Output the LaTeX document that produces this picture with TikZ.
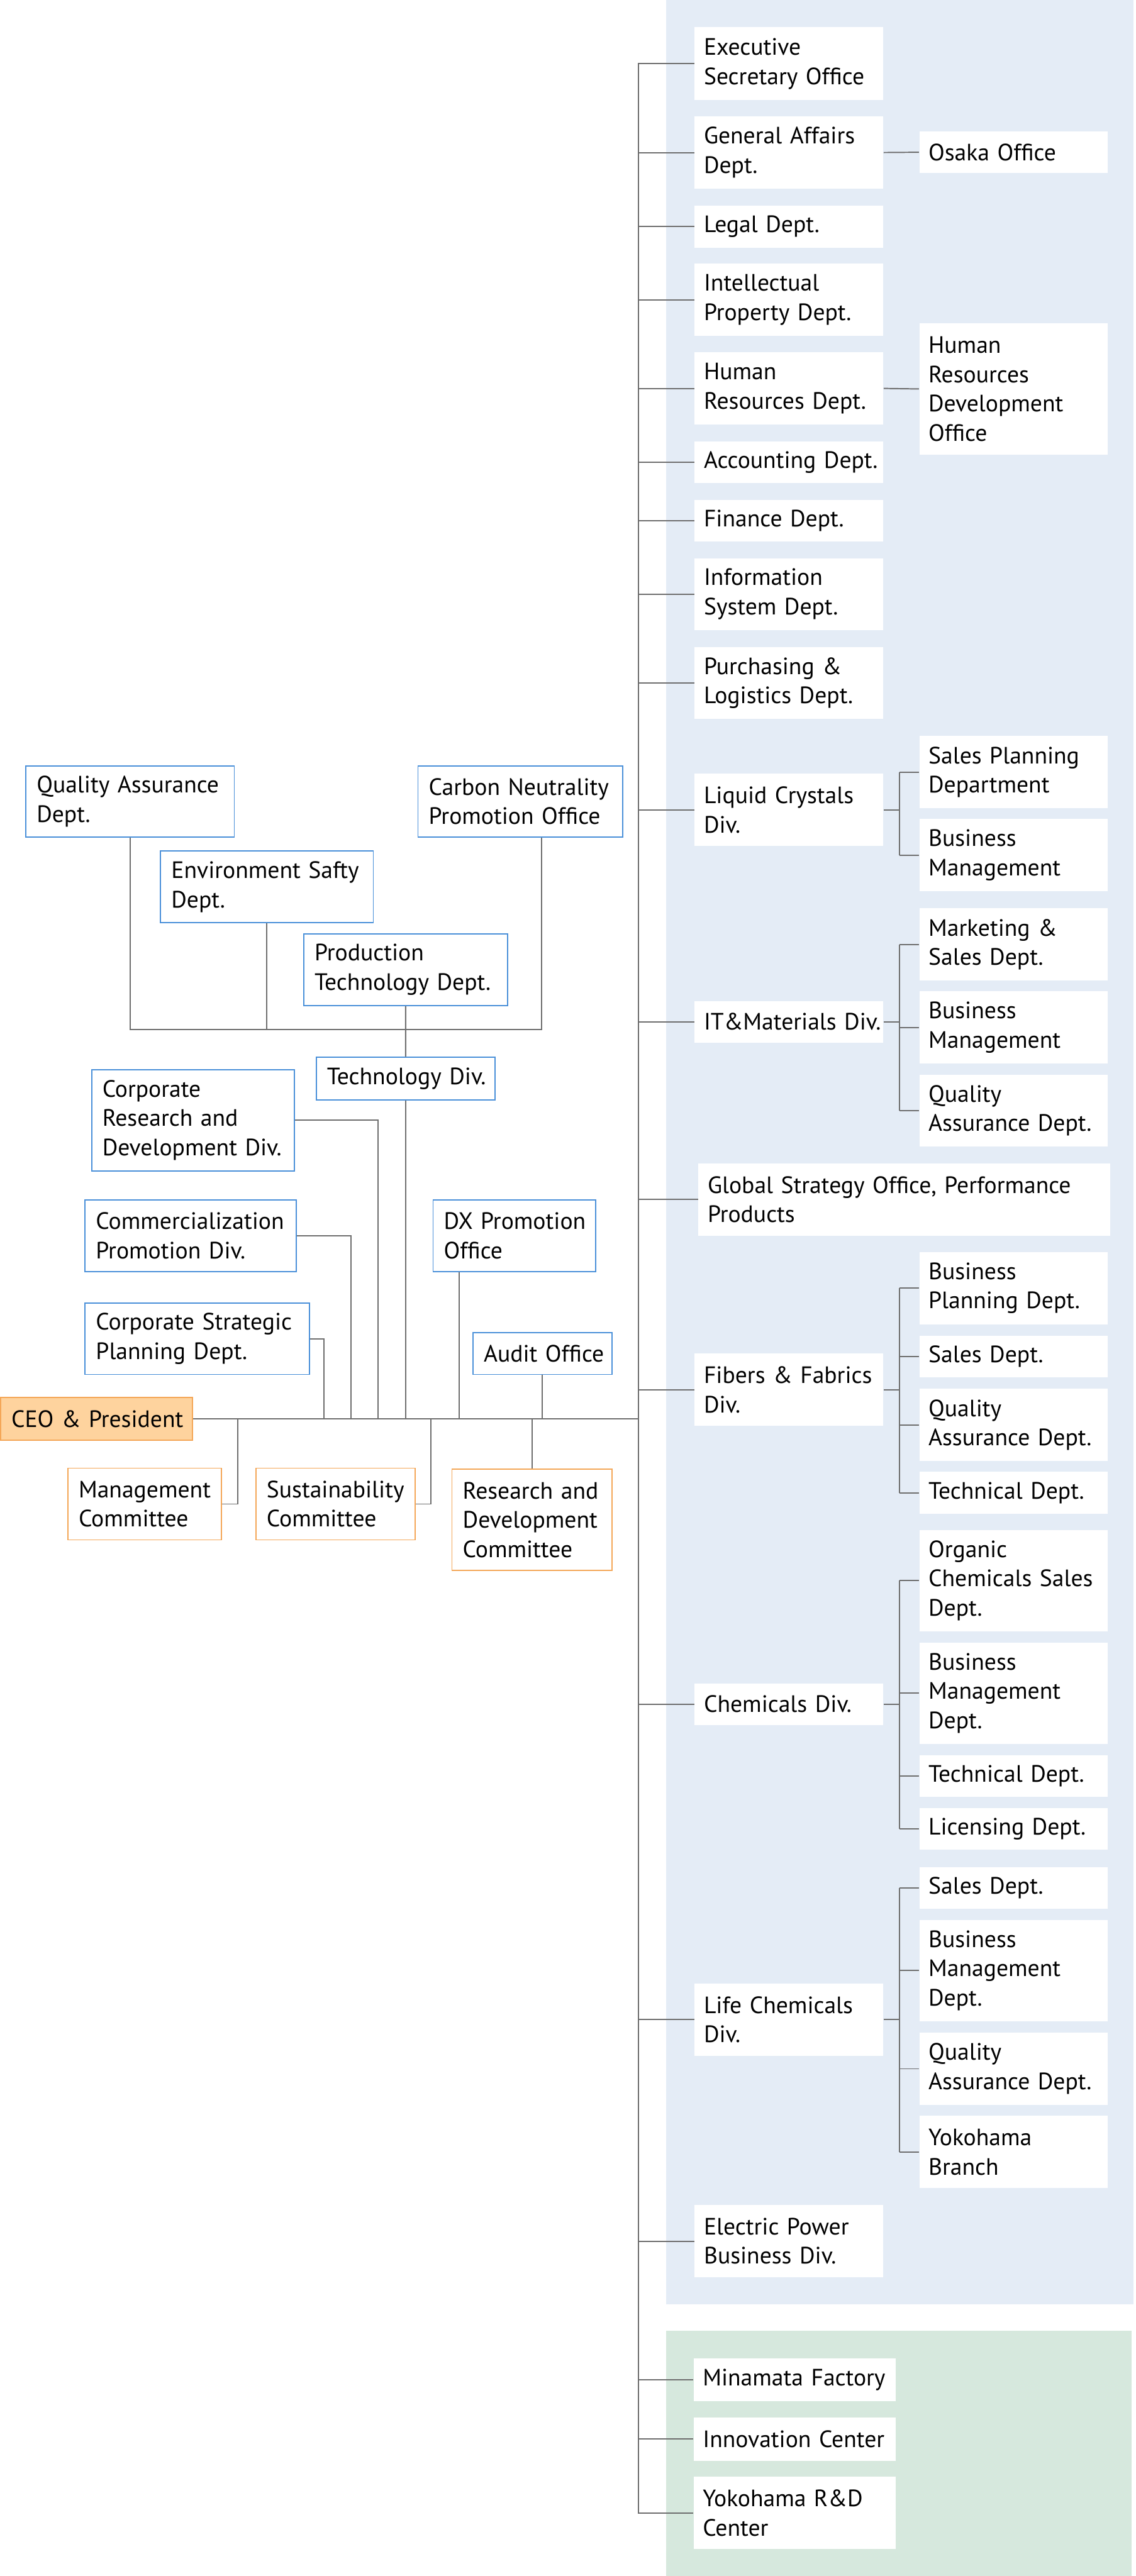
\documentclass[tikz,border=0pt]{standalone}
\usepackage{fontspec}
\newfontfamily\chartfont{PT Sans}
\hyphenpenalty=10000
\exhyphenpenalty=10000

\definecolor{panelblue}{RGB}{228,236,246}
\definecolor{panelgreen}{RGB}{214,232,221}
\definecolor{unitblue}{RGB}{74,144,217}
\definecolor{cmteorange}{RGB}{244,167,88}
\definecolor{ceofill}{RGB}{254,211,158}
\definecolor{linegray}{RGB}{110,110,110}

\begin{document}
\begin{tikzpicture}[x=1cm, y=-1cm,
  cell/.style={anchor=north west, align=left, inner ysep=0pt,
    font=\chartfont\fontsize{12.5}{15.5}\selectfont},
  dept/.style={cell, fill=white, inner xsep=0.17cm, text width=3.16cm},
  site/.style={dept, text width=3.41cm},
  unit/.style={cell, draw=unitblue, line width=0.6pt, fill=white, inner xsep=0.2cm},
  cmte/.style={unit, draw=cmteorange},
  chief/.style={cmte, fill=ceofill},
  link/.style={draw=linegray, line width=0.65pt}]

  \useasboundingbox (0,0) rectangle (21.08,47.83);

  % background panels
  \fill[panelblue] (12.37,0) rectangle (21.04,42.78);
  \fill[panelgreen] (12.37,43.28) rectangle (21.01,47.83);

  % head office departments
  \node[dept, minimum height=1.35cm] (exec) at (12.89,0.50) {Executive\\Secretary Office};
  \node[dept, minimum height=1.35cm] (ga) at (12.89,2.15) {General Affairs\\Dept.};
  \node[dept, minimum height=0.78cm] (legal) at (12.89,3.81) {Legal Dept.};
  \node[dept, minimum height=1.34cm] (ip) at (12.89,4.89) {Intellectual\\Property Dept.};
  \node[dept, minimum height=1.35cm] (hr) at (12.89,6.53) {Human\\Resources~Dept.};
  \node[dept, minimum height=0.77cm] (acc) at (12.89,8.19) {Accounting~Dept.};
  \node[dept, minimum height=0.77cm] (fin) at (12.89,9.28) {Finance Dept.};
  \node[dept, minimum height=1.33cm] (info) at (12.89,10.36) {Information\\System Dept.};
  \node[dept, minimum height=1.33cm] (purch) at (12.89,12.01) {Purchasing \&\\Logistics Dept.};
  \node[dept, minimum height=0.78cm] (osaka) at (17.06,2.43) {Osaka Office};
  \node[dept, minimum height=2.43cm] (hrdev) at (17.06,6.00) {Human\\Resources\\Development\\Office};

  % business divisions
  \node[dept, minimum height=1.34cm] (lc) at (12.89,14.36) {Liquid Crystals\\Div.};
  \node[dept, minimum height=0.77cm] (itm) at (12.89,18.58) {IT\&Materials~Div.};
  \node[dept, text width=7.30cm, minimum height=1.35cm] (glob) at (12.96,21.59)
    {Global~Strategy~Office,~Performance\\Products};
  \node[dept, minimum height=1.35cm] (ff) at (12.89,25.12) {Fibers \& Fabrics\\Div.};
  \node[dept, minimum height=0.77cm] (chem) at (12.89,31.25) {Chemicals~Div.};
  \node[dept, minimum height=1.34cm] (life) at (12.89,36.82) {Life Chemicals\\Div.};
  \node[dept, minimum height=1.35cm] (elec) at (12.89,40.93) {Electric Power\\Business Div.};

  % sub departments
  \node[dept, minimum height=1.34cm] (lcsp) at (17.06,13.66) {Sales Planning\\Department};
  \node[dept, minimum height=1.34cm] (lcbm) at (17.06,15.20) {Business\\Management};
  \node[dept, minimum height=1.34cm] (itms) at (17.06,16.86) {Marketing \&\\Sales Dept.};
  \node[dept, minimum height=1.34cm] (itbm) at (17.06,18.40) {Business\\Management};
  \node[dept, minimum height=1.33cm] (itqa) at (17.06,19.95) {Quality\\Assurance~Dept.};
  \node[dept, minimum height=1.34cm] (ffbp) at (17.06,23.24) {Business\\Planning Dept.};
  \node[dept, minimum height=0.78cm] (ffsd) at (17.06,24.79) {Sales Dept.};
  \node[dept, minimum height=1.34cm] (ffqa) at (17.06,25.78) {Quality\\Assurance~Dept.};
  \node[dept, minimum height=0.78cm] (fftd) at (17.06,27.32) {Technical~Dept.};
  \node[dept, minimum height=1.88cm] (choc) at (17.06,28.40) {Organic\\Chemicals~Sales\\Dept.};
  \node[dept, minimum height=1.88cm] (chbm) at (17.06,30.49) {Business\\Management\\Dept.};
  \node[dept, minimum height=0.77cm] (chtd) at (17.06,32.58) {Technical~Dept.};
  \node[dept, minimum height=0.77cm] (chld) at (17.06,33.57) {Licensing~Dept.};
  \node[dept, minimum height=0.77cm] (lfsd) at (17.06,34.66) {Sales Dept.};
  \node[dept, minimum height=1.88cm] (lfbm) at (17.06,35.64) {Business\\Management\\Dept.};
  \node[dept, minimum height=1.35cm] (lfqa) at (17.06,37.73) {Quality\\Assurance~Dept.};
  \node[dept, minimum height=1.34cm] (lfyb) at (17.06,39.28) {Yokohama\\Branch};

  % factory and research sites
  \node[site, minimum height=0.80cm] (mina) at (12.87,43.78) {Minamata~Factory};
  \node[site, minimum height=0.80cm] (innov) at (12.87,44.88) {Innovation~Center};
  \node[site, minimum height=1.34cm] (yrd) at (12.87,45.98) {Yokohama R\&D\\Center};

  % technology group
  \node[unit, text width=3.47cm, minimum height=1.32cm] (qa) at (0.47,14.21) {Quality~Assurance\\Dept.};
  \node[unit, text width=3.40cm, minimum height=1.32cm] (carbon) at (7.75,14.21) {Carbon~Neutrality\\Promotion~Office};
  \node[unit, text width=3.55cm, minimum height=1.33cm] (env) at (2.97,15.79) {Environment~Safty\\Dept.};
  \node[unit, text width=3.38cm, minimum height=1.33cm] (prod) at (5.63,17.33) {Production\\Technology~Dept.};
  \node[unit, text width=2.92cm, minimum height=0.79cm] (techdiv) at (5.86,19.62) {Technology~Div.};

  % corporate units
  \node[unit, text width=3.36cm, minimum height=1.88cm] (crd) at (1.69,19.85) {Corporate\\Research and\\Development~Div.};
  \node[unit, text width=3.52cm, minimum height=1.33cm] (comm) at (1.57,22.27) {Commercialization\\Promotion Div.};
  \node[unit, text width=3.76cm, minimum height=1.33cm] (strat) at (1.57,24.18) {Corporate~Strategic\\Planning Dept.};
  \node[unit, text width=2.62cm, minimum height=1.33cm] (dx) at (8.03,22.27) {DX~Promotion\\Office};
  \node[unit, text width=2.18cm, minimum height=0.78cm] (audit) at (8.77,24.73) {Audit~Office};

  % top and committees
  \node[chief, text width=3.16cm, minimum height=0.79cm] (ceo) at (0.00,25.94) {CEO~\&~President};
  \node[cmte, text width=2.45cm, minimum height=1.33cm] (mgmt) at (1.25,27.25) {Management\\Committee};
  \node[cmte, text width=2.56cm, minimum height=1.33cm] (sust) at (4.74,27.25) {Sustainability\\Committee};
  \node[cmte, text width=2.57cm, minimum height=1.88cm] (rdc) at (8.38,27.27) {Research~and\\Development\\Committee};

  % junction points
  \coordinate (trunk) at (11.85,0);
  \coordinate (sub) at (16.70,0);
  \coordinate (techbar) at (10.05,19.11);
  \coordinate (jMgmt) at (4.41,26.335);
  \coordinate (jStrat) at (6.01,26.335);
  \coordinate (jComm) at (6.52,26.335);
  \coordinate (jCrd) at (7.02,26.335);
  \coordinate (jSust) at (8.00,26.335);
  \coordinate (jDx) at (8.52,26.335);

  % main trunk
  \draw[link] (exec.west) -- (exec.west -| trunk) -- (yrd.west -| trunk) -- (yrd.west);
  \foreach \n in {ga,legal,ip,hr,acc,fin,info,purch,lc,itm,glob,ff,chem,life,elec,mina,innov}
    \draw[link] (\n.west) -- (\n.west -| trunk);
  \draw[link] (ceo.east) -- (ceo.east -| trunk);
  \draw[link] (ga.east) -- (osaka.west);
  \draw[link] (hr.east) -- (hrdev.west);

  % division rakes
  \foreach \n in {lc,itm,ff,chem,life}
    \draw[link] (\n.east) -- (\n.east -| sub);
  \foreach \n in {lcsp,lcbm,itms,itbm,itqa,ffbp,ffsd,ffqa,fftd,choc,chbm,chtd,chld,lfsd,lfbm,lfqa,lfyb}
    \draw[link] (\n.west) -- (\n.west -| sub);
  \draw[link] (lcsp.west -| sub) -- (lcbm.west -| sub);
  \draw[link] (itms.west -| sub) -- (itqa.west -| sub);
  \draw[link] (ffbp.west -| sub) -- (fftd.west -| sub);
  \draw[link] (choc.west -| sub) -- (chld.west -| sub);
  \draw[link] (lfsd.west -| sub) -- (lfyb.west -| sub);

  % technology group lines
  \draw[link] (qa.south) |- (techbar) -- (carbon.south -| techbar);
  \draw[link] (env.south) -- (env.south |- techbar);
  \draw[link] (prod.south) -- (techdiv.north);
  \draw[link] (techdiv.south) -- (techdiv.south |- ceo.east);

  % units and committees to the CEO line
  \draw[link] (crd.east) -| (jCrd);
  \draw[link] (comm.east) -| (jComm);
  \draw[link] (strat.east) -| (jStrat);
  \draw[link] (dx.south -| jDx) -- (jDx);
  \draw[link] (audit.south) -- (audit.south |- ceo.east);
  \draw[link] (mgmt.east) -| (jMgmt);
  \draw[link] (sust.east) -| (jSust);
  \draw[link] (rdc.north) -- (rdc.north |- ceo.east);

\end{tikzpicture}
\end{document}
